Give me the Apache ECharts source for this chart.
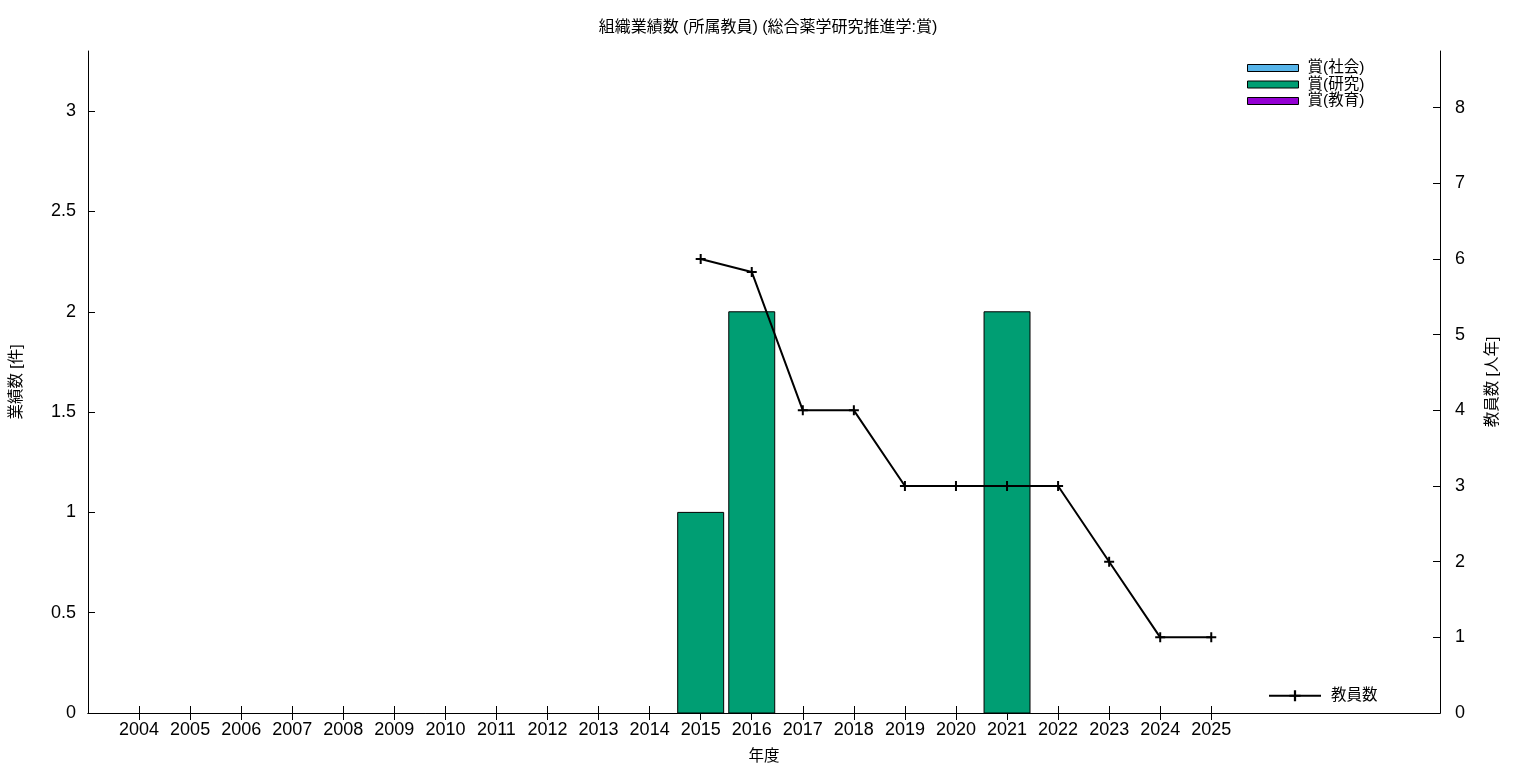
<!DOCTYPE html>
<html><head><meta charset="utf-8">
<script src="https://cdn.jsdelivr.net/npm/echarts@6/dist/echarts.min.js"></script>
<style>html,body{margin:0;padding:0;background:#fff}#c{width:1536px;height:768px}</style>
</head><body><div id="c"></div>
<script>
const years = [2004,2005,2006,2007,2008,2009,2010,2011,2012,2013,2014,2015,2016,2017,2018,2019,2020,2021,2022,2023,2024,2025];
const awardSocial   = [0,0,0,0,0,0,0,0,0,0,0,0,0,0,0,0,0,0,0,0,0,0];
const awardResearch = [0,0,0,0,0,0,0,0,0,0,0,1,2,0,0,0,0,2,0,0,0,0];
const awardEducation= [0,0,0,0,0,0,0,0,0,0,0,0,0,0,0,0,0,0,0,0,0,0];
const staffYears = [2015,2016,2017,2018,2019,2020,2021,2022,2023,2024,2025];
const staffCount = [6,5.83,4,4,3,3,3,3,2,1,1];
const leftTicks = [0,0.5,1,1.5,2,2.5,3];
const rightTicks = [0,1,2,3,4,5,6,7,8];
const seriesNames = ['賞(社会)','賞(研究)','賞(教育)'];
const seriesColors = ['#56b4e9','#009e73','#9400d3'];

const FONT = "'Liberation Sans','Noto Sans CJK JP',sans-serif";
const stacks = [awardSocial, awardResearch, awardEducation];
const base = years.map(()=>0);
const barSeries = stacks.map((arr, si) => {
  const data = years.map((y, i) => { const d = [y, arr[i], base[i]]; base[i] += arr[i]; return d; });
  return {
    name: seriesNames[si], type: 'custom', xAxisIndex: 0, yAxisIndex: 0,
    itemStyle: {color: seriesColors[si]},
    data: data,
    renderItem: function(params, api){
      const v = api.value(1); if (!v) return null;
      const x = api.value(0), b = api.value(2);
      const p0 = api.coord([x, b]), p1 = api.coord([x, b + v]);
      const w = api.size([0.9, 0])[0];
      return {type:'rect', shape:{x: p0[0]-w/2, y: p1[1], width: w, height: p0[1]-p1[1]},
        style:{fill: seriesColors[si], stroke:'#000', lineWidth:1}};
    },
    z: 2
  };
});
const plus = 'path://M4,0h2v4h4v2h-4v4h-2v-4h-4v-2h4z';
const chart = echarts.init(document.getElementById('c'));
chart.setOption({
  animation: false,
  textStyle: {fontFamily: FONT, color: '#000'},
  title: {text: '組織業績数 (所属教員) (総合薬学研究推進学:賞)', left: 'center', top: 15,
    textStyle: {fontSize: 16, fontWeight: 'normal', color: '#000', fontFamily: FONT}},
  grid: {left: 88, right: 96, top: 51, bottom: 55, containLabel: false, outerBoundsMode: 'none'},
  legend: [
    {data: seriesNames.map((n,i)=>({name:n, itemStyle:{color:seriesColors[i], borderColor:'#000', borderWidth:1}})),
     orient: 'vertical', left: 1247, top: 60, itemWidth: 51, itemHeight: 7, itemGap: 0.5, icon: 'rect',
     textStyle: {fontSize: 15.5, lineHeight: 16, fontFamily: FONT, color:'#000', padding:[0,0,0,4]}, padding: 0, selectedMode: false},
    {data: ['教員数'], left: 1268, top: 688, itemWidth: 52, itemHeight: 14, padding: 0, selectedMode: false,
     textStyle: {fontSize: 15.5, fontFamily: FONT, color:'#000', padding:[0,0,0,5]}}
  ],
  xAxis: [
    {type: 'value', min: 2003, max: 2029.48, position: 'bottom',
     name: '年度', nameLocation: 'middle', nameGap: 36, nameTextStyle: {fontSize: 15.5, fontFamily: FONT, color:'#000'},
     axisLine: {lineStyle: {color: '#000', width: 1}},
     axisTick: {inside: true, length: 7, customValues: years, lineStyle: {color:'#000'}},
     axisLabel: {customValues: years, formatter: v => String(v), fontSize: 18, color: '#000', margin: 8, fontFamily: FONT},
     splitLine: {show: false}},
    {type: 'value', min: 2003, max: 2029.48, position: 'top',
     axisLine: {lineStyle: {color: '#000', width: 1}},
     axisTick: {inside: true, length: 7, customValues: years, lineStyle: {color:'#000'}},
     axisLabel: {show: false}, splitLine: {show: false}}
  ],
  yAxis: [
    {type: 'value', min: 0, max: 3.3, position: 'left',
     name: '業績数 [件]', nameLocation: 'middle', nameGap: 64, nameRotate: 90,
     nameTextStyle: {fontSize: 15.5, fontFamily: FONT, color:'#000'},
     axisLine: {show: true, lineStyle: {color: '#000', width: 1}},
     axisTick: {show: true, inside: true, length: 7, customValues: leftTicks, lineStyle: {color:'#000'}},
     axisLabel: {customValues: leftTicks, fontSize: 18, color: '#000', margin: 12, fontFamily: FONT},
     splitLine: {show: false}},
    {type: 'value', min: 0, max: 8.75, position: 'right',
     name: '教員数 [人年]', nameLocation: 'middle', nameGap: 45, nameRotate: 90,
     nameTextStyle: {fontSize: 15.5, fontFamily: FONT, color:'#000'},
     axisLine: {show: true, lineStyle: {color: '#000', width: 1}},
     axisTick: {show: true, inside: true, length: 7, customValues: rightTicks, lineStyle: {color:'#000'}},
     axisLabel: {customValues: rightTicks, fontSize: 18, color: '#000', margin: 15, fontFamily: FONT},
     splitLine: {show: false}}
  ],
  series: barSeries.concat([{
    name: '教員数', type: 'line', xAxisIndex: 0, yAxisIndex: 1,
    data: staffYears.map((y,i)=>[y, staffCount[i]]),
    symbol: plus, symbolSize: 10, showSymbol: true,
    lineStyle: {color: '#000', width: 2}, itemStyle: {color: '#000'}, z: 5
  }])
});
</script></body></html>
